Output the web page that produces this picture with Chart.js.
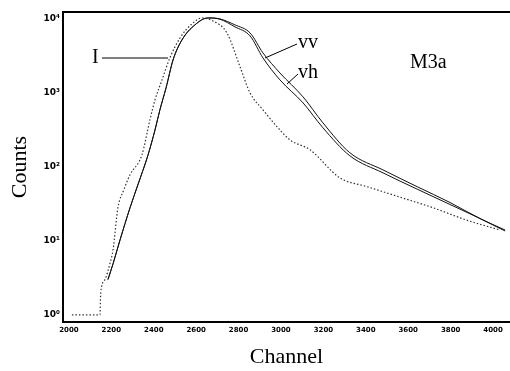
<!DOCTYPE html>
<html>
<head>
<meta charset="utf-8">
<script src="https://cdn.jsdelivr.net/npm/chart.js@4.4.0/dist/chart.umd.min.js"></script>
<style>
html, body { margin: 0; padding: 0; background: #fff; }
#wrap { width: 510px; height: 371px; }
</style>
</head>
<body>
<div id="wrap"><canvas id="spectrum" width="510" height="371"></canvas></div>
<script>
// Channel / counts (log scale)
const chI  = [2014, 2146, 2150, 2170, 2193, 2208, 2231, 2259, 2288, 2344, 2382, 2406, 2439, 2476, 2524, 2580, 2627, 2679, 2745, 2807, 2854, 2915, 2981, 3042, 3137, 3278, 3406, 3561, 3717, 3877, 4033];
const cntI = [1, 1, 2, 3, 4.9, 7.6, 28, 49, 78, 145, 432, 805, 1500, 2970, 5540, 8560, 10300, 9400, 6470, 2250, 1000, 590, 350, 232, 170, 71, 54, 39, 28, 19, 14];

const chV   = [2184, 2208, 2241, 2288, 2325, 2373, 2406, 2429, 2458, 2491, 2533, 2594, 2656, 2712, 2783, 2854, 2915, 2995, 3104, 3198, 3325, 3481, 3642, 3797, 3939, 4057];
const cntVV = [3, 4.9, 10.3, 28, 57, 145, 316, 590, 1170, 2790, 5200, 8300, 10300, 10000, 8300, 6470, 3470, 1860, 883, 393, 155, 91, 54, 33, 20, 14];
const cntVH = [3, 4.9, 10.3, 28, 57, 145, 316, 590, 1170, 2790, 5200, 8300, 10300, 9900, 7800, 5900, 2970, 1500, 733, 337, 141, 83, 50, 31, 20, 13.6];

const xTicks = [2000, 2200, 2400, 2600, 2800, 3000, 3200, 3400, 3600, 3800, 4000];
const yTicks = [1, 10, 100, 1000, 10000];

const sup = { '0': '\u2070', '1': '\u00B9', '2': '\u00B2', '3': '\u00B3', '4': '\u2074' };

function pts(xs, ys) {
    return xs.map((x, i) => ({ x: x, y: ys[i] }));
}

// Labels, leader lines and the frame top
const annotate = {
    id: 'annotate',
    afterDatasetsDraw(chart) {
        const c = chart.ctx;
        const a = chart.chartArea;
        c.save();
        c.strokeStyle = '#000';
        c.lineWidth = 2;
        c.beginPath();
        c.moveTo(a.left - 1, a.top);
        c.lineTo(a.right, a.top);
        c.stroke();

        c.lineWidth = 1;
        c.beginPath();
        c.moveTo(102, 58); c.lineTo(168, 58);
        c.moveTo(265, 58); c.lineTo(297, 44);
        c.moveTo(287, 84); c.lineTo(298, 74);
        c.stroke();

        c.fillStyle = '#000';
        c.font = '20px "Liberation Serif", serif';
        c.textBaseline = 'middle';
        c.textAlign = 'left';
        c.fillText('I', 92, 58);
        c.fillText('vv', 298, 43);
        c.fillText('vh', 298, 73);
        c.fillText('M3a', 410, 63);
        c.restore();
    }
};

new Chart(document.getElementById('spectrum'), {
    type: 'line',
    data: {
        datasets: [
            {
                label: 'I',
                data: pts(chI, cntI),
                borderColor: '#333',
                borderWidth: 1.2,
                borderDash: [1.5, 2],
                pointRadius: 0,
                cubicInterpolationMode: 'monotone'
            },
            {
                label: 'vv',
                data: pts(chV, cntVV),
                borderColor: '#111',
                borderWidth: 1,
                pointRadius: 0,
                cubicInterpolationMode: 'monotone'
            },
            {
                label: 'vh',
                data: pts(chV, cntVH),
                borderColor: '#111',
                borderWidth: 1,
                pointRadius: 0,
                cubicInterpolationMode: 'monotone'
            }
        ]
    },
    options: {
        responsive: false,
        animation: false,
        devicePixelRatio: 1,
        layout: { padding: { top: 12, right: 0, left: 0, bottom: 0 } },
        plugins: {
            legend: { display: false },
            tooltip: { enabled: false }
        },
        scales: {
            x: {
                type: 'linear',
                min: 1972,
                max: 4080,
                afterBuildTicks: s => { s.ticks = xTicks.map(v => ({ value: v })); },
                afterFit: s => { s.height = 49; },
                grid: { display: false, drawTicks: false },
                border: { display: true, color: '#000', width: 2 },
                ticks: {
                    color: '#000',
                    padding: 4,
                    maxRotation: 0,
                    autoSkip: false,
                    font: { family: '"DejaVu Sans", sans-serif', size: 7, weight: 'bold' },
                    callback: v => String(v)
                },
                title: {
                    display: true,
                    text: 'Channel',
                    color: '#000',
                    font: { family: '"Liberation Serif", serif', size: 22 },
                    padding: { top: 0, bottom: 1 }
                }
            },
            y: {
                type: 'logarithmic',
                min: 0.8,
                max: 12400,
                afterBuildTicks: s => { s.ticks = yTicks.map(v => ({ value: v })); },
                afterFit: s => { s.width = 63; },
                grid: { display: false, drawTicks: false },
                border: { display: true, color: '#000', width: 2 },
                ticks: {
                    color: '#000',
                    padding: 3,
                    font: { family: '"DejaVu Sans", sans-serif', size: 9, weight: 'bold' },
                    callback: v => '10' + sup[String(Math.round(Math.log10(v)))]
                },
                title: {
                    display: true,
                    text: 'Counts',
                    color: '#000',
                    font: { family: '"Liberation Serif", serif', size: 22 },
                    padding: { top: 7 }
                }
            }
        }
    },
    plugins: [annotate]
});
</script>
</body>
</html>
